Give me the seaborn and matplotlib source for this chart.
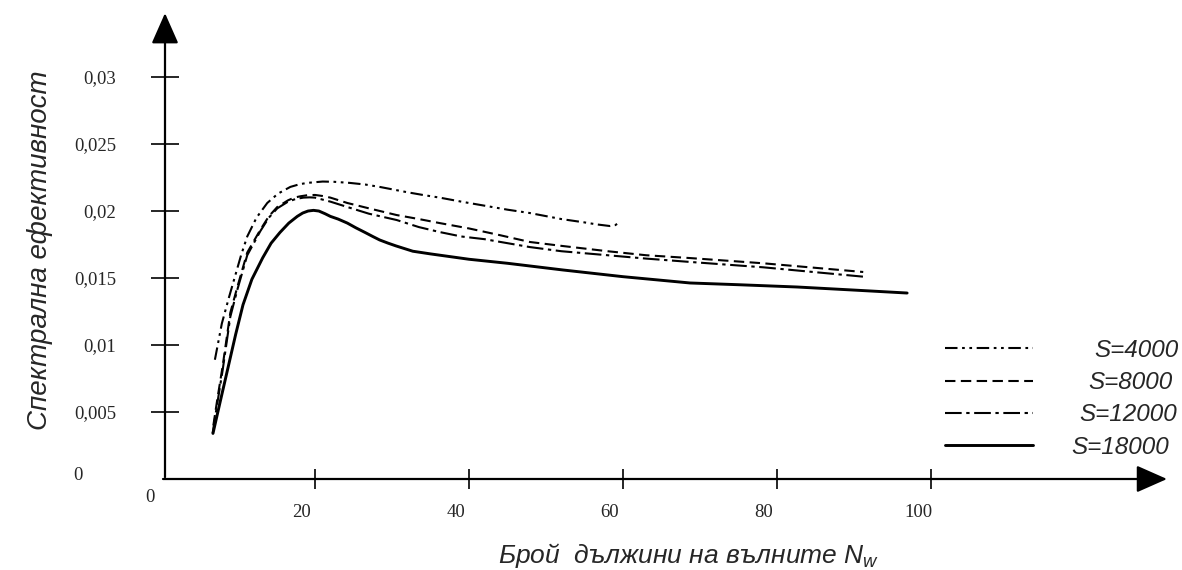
import matplotlib.pyplot as plt
import matplotlib.transforms as mtransforms
import pandas as pd
import seaborn as sns

sns.set_style("white")
plt.rcParams["font.family"] = ["Liberation Sans", "DejaVu Sans"]
plt.rcParams["mathtext.fontset"] = "custom"
plt.rcParams["mathtext.rm"] = "Liberation Sans"
plt.rcParams["mathtext.it"] = "Liberation Sans:italic"

# Values
N_4000 = [7.0, 7.9, 8.8, 9.6, 10.4, 11.2, 12.4, 13.8, 15.2, 16.8, 18.0, 19.0,
          20.0, 21.0, 22.5, 24.5, 26.5, 28.4, 30.2, 32.0, 34.0, 36.2, 39.0,
          42.0, 45.0, 47.9, 52.0, 55.0, 56.6, 57.6, 58.3, 59.0, 59.4]
V_4000 = [0.0089, 0.0116, 0.0135, 0.0151, 0.0167, 0.0181, 0.0195, 0.0206,
          0.0213, 0.0218, 0.0220, 0.0221, 0.02215, 0.0222, 0.02218, 0.0221,
          0.02198, 0.0218, 0.0216, 0.0214, 0.0212, 0.0210, 0.0207, 0.0204,
          0.0201, 0.01985, 0.0194, 0.01915, 0.0190, 0.01893, 0.01888,
          0.01895, 0.0191]

N_8000 = [6.8, 7.3, 8.0, 9.0, 9.9, 11.2, 12.9, 14.0, 15.1, 16.5, 17.3, 18.1,
          19.0, 20.0, 21.0, 22.0, 24.2, 27.0, 30.6, 33.5, 36.2, 40.0, 44.0,
          47.9, 52.0, 58.0, 63.0, 68.7, 78.2, 91.2]
V_8000 = [0.0040, 0.0059, 0.0084, 0.0124, 0.0143, 0.0169, 0.0186, 0.0196,
          0.0203, 0.0208, 0.0210, 0.0211, 0.02118, 0.0212, 0.02112, 0.0210,
          0.0206, 0.0202, 0.0197, 0.0194, 0.0191, 0.0187, 0.0182, 0.01769,
          0.0174, 0.0170, 0.0167, 0.01649, 0.0161, 0.01545]

N_12000 = [6.7, 7.3, 8.0, 9.0, 9.9, 11.2, 12.9, 14.0, 15.1, 16.5, 17.5, 18.5,
           19.3, 20.0, 21.0, 22.0, 24.2, 27.0, 30.6, 33.5, 36.2, 39.0, 42.0,
           47.9, 52.0, 58.0, 63.0, 68.7, 78.2, 91.2]
V_12000 = [0.0034, 0.0056, 0.0081, 0.0121, 0.0141, 0.0167, 0.0185, 0.0195,
           0.0202, 0.0207, 0.0209, 0.0210, 0.02102, 0.0210, 0.02085, 0.0207,
           0.0203, 0.0198, 0.01933, 0.0188, 0.01843, 0.0181, 0.0179, 0.01731,
           0.0170, 0.0167, 0.01645, 0.0162, 0.0158, 0.0151]

N_18000 = [6.75, 7.7, 8.7, 9.7, 10.65, 11.8, 13.2, 14.3, 15.45, 16.6, 17.7,
           18.4, 19.1, 19.8, 20.5, 21.3, 22.0, 23.0, 24.2, 25.3, 26.5, 27.5,
           28.4, 29.5, 30.5, 31.6, 32.7, 35.0, 40.0, 45.0, 52.2, 60.0, 68.7,
           75.0, 82.6, 90.0, 96.9]
V_18000 = [0.0034, 0.0058, 0.0083, 0.0108, 0.0130, 0.0149, 0.0165, 0.0176,
           0.0184, 0.0191, 0.0196, 0.01985, 0.0200, 0.02005, 0.0200, 0.0198,
           0.0196, 0.0194, 0.0191, 0.01875, 0.0184, 0.0181, 0.01784, 0.0176,
           0.0174, 0.0172, 0.0170, 0.0168, 0.0164, 0.0161, 0.0156, 0.0151,
           0.01463, 0.0145, 0.01433, 0.0141, 0.01388]

SERIES = ["S=4000", "S=8000", "S=12000", "S=18000"]
X_TICKS = [20, 40, 60, 80, 100]
Y_TICKS = [0.005, 0.01, 0.015, 0.02, 0.025, 0.03]
Y_TICK_LABELS = ["0,005", "0,01", "0,015", "0,02", "0,025", "0,03"]

df = pd.concat(
    [
        pd.DataFrame({"N": N_4000, "V": V_4000, "S": "S=4000"}),
        pd.DataFrame({"N": N_8000, "V": V_8000, "S": "S=8000"}),
        pd.DataFrame({"N": N_12000, "V": V_12000, "S": "S=12000"}),
        pd.DataFrame({"N": N_18000, "V": V_18000, "S": "S=18000"}),
    ],
    ignore_index=True,
)

line_styles = {
    "S=4000": dict(linestyle=(0, (6, 2.2, 1.3, 2.2, 1.3, 2.2)), linewidth=1.5),
    "S=8000": dict(linestyle=(0, (5, 2.6)), linewidth=1.5),
    "S=12000": dict(linestyle=(0, (8, 2.2, 1.6, 2.2)), linewidth=1.5),
    "S=18000": dict(linestyle="-", linewidth=2.1),
}
# gap between legend line and its text, px (the texts are placed unevenly)
legend_gaps = {"S=4000": 62, "S=8000": 56, "S=12000": 47, "S=18000": 39}

W, H = 1182, 570
fig = plt.figure(figsize=(W / 100, H / 100), dpi=100)
ax = fig.add_axes([165 / W, 1 - 479 / H, 1002 / W, 464 / H])

for s in SERIES:
    sub = df[df["S"] == s]
    sns.lineplot(data=sub, x="N", y="V", ax=ax, color="black", label=s,
                 estimator=None, **line_styles[s])

ax.set_xlim(0.52, 130.65)
ax.set_ylim(0, 0.03463)

for side in ["top", "right", "left", "bottom"]:
    ax.spines[side].set_visible(False)

# axes with arrow heads
arrow = dict(arrowstyle="-|>,head_length=0.95,head_width=0.42", color="black",
             lw=1.6, shrinkA=0, shrinkB=0, mutation_scale=20)
ax.annotate("", xy=(1, 0), xytext=(-0.002, 0), xycoords="axes fraction",
            arrowprops=arrow, annotation_clip=False)
ax.annotate("", xy=(0, 1.004), xytext=(0, 0.004), xycoords="axes fraction",
            arrowprops=arrow, annotation_clip=False)

ax.set_xticks(X_TICKS)
ax.set_xticklabels([str(t) for t in X_TICKS])
ax.set_yticks(Y_TICKS)
ax.set_yticklabels(Y_TICK_LABELS)
ax.tick_params(axis="x", direction="inout", length=14, width=1.4,
               pad=11, labelsize=13.5, bottom=True)
ax.tick_params(axis="y", direction="inout", length=20, width=1.4,
               pad=25, labelsize=13.5, left=True)
shift = mtransforms.ScaledTranslation(-13 / 100, 0, fig.dpi_scale_trans)
for lab in ax.get_xticklabels():
    lab.set_transform(lab.get_transform() + shift)
    lab.set_family(["Liberation Serif", "DejaVu Serif"])
for lab in ax.get_yticklabels():
    lab.set_family(["Liberation Serif", "DejaVu Serif"])

# the two zero labels sit apart from the ticks
fig.text(78 / W, 1 - 476 / H, "0", ha="center", va="center", fontsize=13.5,
         family=["Liberation Serif", "DejaVu Serif"])
fig.text(150 / W, 1 - 497 / H, "0", ha="center", va="center", fontsize=13.5,
         family=["Liberation Serif", "DejaVu Serif"])

ax.set_xlabel("")
ax.set_ylabel("")
fig.text(498 / W, 1 - 563 / H, "Брой  дължини на вълните $N_w$",
         ha="left", va="baseline", fontsize=19, style="italic")
fig.text(40 / W, 1 - 250 / H, "Спектрална ефективност", rotation=90,
         ha="center", va="center", fontsize=20, style="italic")

leg = ax.legend(loc="upper left", bbox_to_anchor=(945 / W, 1 - 339 / H),
                bbox_transform=fig.transFigure, frameon=False,
                handlelength=3.6, handletextpad=2.0, labelspacing=0.38,
                borderpad=0, borderaxespad=0,
                prop={"style": "italic", "size": 17.5})
# spread the legend texts like in the reference
rows = leg._legend_handle_box.get_children()[0].get_children()
for row, s in zip(rows, SERIES):
    row.sep = legend_gaps[s] * 72 / 100

fig.savefig("out.png", dpi=100)
